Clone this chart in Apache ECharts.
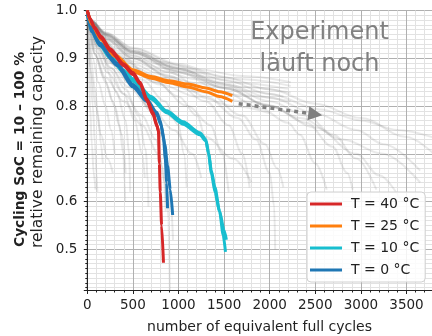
<!DOCTYPE html>
<html>
<head>
<meta charset="utf-8">
<script src="https://cdn.jsdelivr.net/npm/echarts@6/dist/echarts.min.js"></script>
<style>
  html, body { margin: 0; padding: 0; background: #fff; }
  #chart { width: 432px; height: 336px; }
</style>
</head>
<body>
<div id="chart"></div>
<script>
// Capacity fade of cells cycled between 10 % and 100 % SoC
// at four temperatures; [equivalent full cycles, relative capacity]

const t40a = [[0,1.0],[30,0.984],[80,0.965],[150,0.946],[250,0.92],[400,0.888],[500,0.87],[580,0.85],[650,0.816],[720,0.787],[760,0.762],[780,0.748],[790,0.68],[800,0.62],[815,0.55],[835,0.472]];
const t40b = [[0,1.0],[30,0.982],[80,0.962],[150,0.942],[250,0.916],[400,0.884],[500,0.866],[580,0.846],[650,0.812],[720,0.782],[765,0.757],[785,0.742]];

const t25a = [[0,1.0],[50,0.972],[150,0.942],[300,0.908],[500,0.876],[700,0.862],[900,0.853],[1100,0.846],[1300,0.838],[1450,0.83],[1590,0.822]];
const t25b = [[0,1.0],[50,0.97],[150,0.939],[300,0.904],[500,0.872],[700,0.858],[900,0.849],[1100,0.84],[1300,0.83],[1450,0.82],[1590,0.81]];

const t10a = [[0,1.0],[20,0.975],[50,0.958],[140,0.93],[250,0.905],[400,0.875],[500,0.857],[700,0.82],[870,0.79],[1050,0.767],[1235,0.744],[1300,0.73],[1330,0.7],[1360,0.66],[1400,0.62],[1450,0.58],[1500,0.54],[1525,0.52]];
const t10b = [[0,1.0],[20,0.973],[50,0.955],[140,0.926],[250,0.9],[400,0.87],[500,0.852],[700,0.815],[870,0.786],[1050,0.762],[1235,0.74],[1300,0.727],[1330,0.702],[1360,0.665],[1400,0.63],[1450,0.58],[1490,0.53],[1515,0.495]];

const t0a = [[0,1.0],[20,0.975],[50,0.96],[140,0.932],[325,0.89],[500,0.845],[650,0.815],[760,0.787],[800,0.77],[835,0.735],[855,0.69],[870,0.64],[880,0.586]];
const t0b = [[0,1.0],[20,0.972],[50,0.955],[140,0.926],[325,0.885],[500,0.84],[650,0.81],[760,0.782],[810,0.76],[850,0.72],[880,0.675],[910,0.625],[936,0.572]];

// further cells of the test matrix, drawn as a faint background
const otherCells = [
  [[0,1],[5,0.95],[15,0.88],[30,0.8],[50,0.72],[70,0.66],[90,0.625]],
  [[0,1],[10,0.95],[30,0.88],[60,0.8],[85,0.72],[100,0.66],[110,0.62]],
  [[0,1],[15,0.95],[40,0.9],[80,0.84],[120,0.78],[150,0.72],[170,0.68]],
  [[0,1],[20,0.95],[60,0.9],[120,0.85],[200,0.8],[260,0.75],[300,0.7]],
  [[0,1],[20,0.96],[80,0.91],[180,0.86],[280,0.81],[350,0.76],[395,0.7],[410,0.64],[415,0.6]],
  [[0,1],[30,0.96],[100,0.92],[200,0.88],[320,0.83],[420,0.77],[460,0.7],[470,0.62]],
  [[0,1],[25,0.955],[90,0.905],[200,0.85],[300,0.8],[380,0.74],[420,0.66]],
  [[0,1],[30,0.965],[120,0.925],[260,0.88],[420,0.835],[560,0.78],[640,0.71],[665,0.64],[670,0.59]],
  [[0,1],[30,0.962],[120,0.92],[250,0.875],[400,0.825],[520,0.77],[600,0.7],[630,0.65]],
  [[0,1],[30,0.97],[120,0.93],[280,0.89],[480,0.85],[680,0.8],[820,0.74],[870,0.66],[890,0.56],[905,0.415]],
  [[0,1],[30,0.968],[130,0.928],[300,0.885],[500,0.84],[700,0.79],[840,0.73],[900,0.64],[940,0.52]],
  [[0,1],[40,0.97],[150,0.935],[350,0.895],[600,0.855],[850,0.81],[1000,0.76],[1060,0.7],[1090,0.63]],
  [[0,1],[40,0.972],[150,0.94],[400,0.9],[700,0.86],[1000,0.82],[1200,0.78],[1320,0.72],[1380,0.65],[1410,0.6]],
  [[0,1],[40,0.97],[150,0.938],[400,0.895],[750,0.85],[1100,0.8],[1350,0.76],[1480,0.7],[1550,0.62]],
  [[0,1],[50,0.975],[200,0.94],[500,0.9],[900,0.86],[1300,0.81],[1550,0.76],[1700,0.7],[1780,0.63]],
  [[0,1],[50,0.975],[200,0.945],[500,0.905],[900,0.87],[1300,0.83],[1700,0.78],[1950,0.72],[2080,0.67],[2150,0.63]],
  [[0,1],[50,0.974],[200,0.942],[500,0.9],[900,0.862],[1300,0.82],[1650,0.775],[1850,0.73],[2000,0.66],[2050,0.59],[2060,0.5]],
  [[0,1],[50,0.976],[200,0.948],[500,0.91],[1000,0.87],[1500,0.83],[1900,0.795],[2200,0.765],[2330,0.74],[2500,0.68],[2625,0.625]],
  [[0,1],[50,0.977],[200,0.95],[500,0.912],[1000,0.875],[1500,0.838],[2000,0.8],[2400,0.765],[2690,0.715],[2850,0.66],[2910,0.625]],
  [[0,1],[50,0.978],[200,0.952],[500,0.915],[1000,0.878],[1500,0.845],[2000,0.81],[2400,0.78],[2700,0.74],[2950,0.69],[3170,0.625]],
  [[0,1],[50,0.978],[200,0.953],[500,0.92],[1000,0.885],[1500,0.855],[2000,0.825],[2550,0.793],[3000,0.77],[3400,0.75],[3780,0.735]],
  [[0,1],[50,0.977],[200,0.95],[500,0.915],[1000,0.88],[1500,0.848],[2000,0.818],[2500,0.785],[2950,0.75],[3250,0.72],[3650,0.665]],
  [[0,1],[50,0.976],[200,0.948],[500,0.912],[1000,0.872],[1500,0.838],[2000,0.8],[2330,0.775],[2800,0.73],[3240,0.7],[3650,0.64]],
  [[0,1],[50,0.978],[200,0.954],[500,0.922],[1000,0.888],[1500,0.86],[2000,0.835],[2500,0.805],[3000,0.775],[3500,0.735],[3800,0.7]],
  [[0,1],[50,0.977],[200,0.951],[500,0.916],[1000,0.878],[1500,0.842],[2000,0.8],[2500,0.755],[2950,0.7],[3200,0.655],[3450,0.6]],
  [[0,1],[50,0.98],[150,0.958],[300,0.935],[500,0.912],[800,0.893],[1200,0.877],[1700,0.863],[2230,0.85]],
  [[0,1],[50,0.978],[150,0.955],[300,0.93],[500,0.906],[800,0.887],[1200,0.87],[1700,0.856],[2230,0.842]],
  [[0,1],[50,0.976],[150,0.95],[300,0.923],[500,0.9],[800,0.88],[1200,0.863],[1700,0.848],[2200,0.836]],
  [[0,1],[50,0.975],[150,0.947],[300,0.918],[500,0.894],[800,0.874],[1200,0.856],[1700,0.84],[2230,0.828]],
  [[0,1],[50,0.974],[150,0.944],[300,0.913],[500,0.888],[800,0.867],[1200,0.848],[1700,0.832],[2150,0.82]],
  [[0,1],[50,0.973],[150,0.941],[300,0.908],[500,0.882],[800,0.86],[1200,0.84],[1700,0.822],[2230,0.81]],
  [[0,1],[50,0.972],[150,0.938],[300,0.903],[500,0.876],[800,0.852],[1200,0.83],[1700,0.81],[2100,0.797]],
  [[0,1],[50,0.971],[150,0.935],[300,0.898],[500,0.87],[800,0.845],[1200,0.82],[1600,0.8],[2000,0.785]],
  [[0,1],[30,0.965],[100,0.93],[250,0.89],[450,0.85],[700,0.81],[1000,0.77],[1300,0.735],[1600,0.69],[1800,0.64]],
  [[0,1],[30,0.963],[100,0.925],[250,0.88],[450,0.84],[700,0.795],[950,0.75],[1150,0.7],[1250,0.65]],
  [[0,1],[20,0.955],[80,0.91],[200,0.86],[400,0.81],[600,0.76],[780,0.7],[850,0.64],[870,0.6]],
  [[0,1],[25,0.96],[90,0.915],[220,0.87],[400,0.825],[600,0.78],[750,0.73],[830,0.67],[860,0.58]],
  [[0,1],[10,0.94],[40,0.87],[90,0.8],[150,0.74],[220,0.69],[280,0.66]]
];

const legendNames = ['T = 40 °C', 'T = 25 °C', 'T = 10 °C', 'T = 0 °C'];
const colors = { '40': '#d62728', '25': '#ff7f0e', '10': '#17becf', '0': '#1f77b4' };

const FONT = 'DejaVu Sans';
const chart = echarts.init(document.getElementById('chart'), null, { renderer: 'canvas' });

function bgSeries(data) {
  return {
    type: 'line', data: data, showSymbol: false, silent: true,
    smooth: 0.35, smoothMonotone: 'x', z: 1,
    lineStyle: { color: 'rgba(120,120,120,0.16)', width: 2 }
  };
}
function cellSeries(name, color, data) {
  return {
    type: 'line', name: name, data: data, showSymbol: false,
    smooth: 0.25, smoothMonotone: 'x', z: 3,
    itemStyle: { color: color },
    lineStyle: { color: color, width: 3 }
  };
}

const series = otherCells.map(bgSeries).concat([
  cellSeries(legendNames[2], colors['10'], t10a),
  cellSeries(legendNames[2], colors['10'], t10b),
  cellSeries(legendNames[3], colors['0'], t0a),
  cellSeries(legendNames[3], colors['0'], t0b),
  cellSeries(legendNames[1], colors['25'], t25a),
  cellSeries(legendNames[1], colors['25'], t25b),
  cellSeries(legendNames[0], colors['40'], t40a),
  cellSeries(legendNames[0], colors['40'], t40b),
  {
    // dotted arrow: the 25 °C test is still running
    type: 'line', data: [], silent: true, z: 4,
    markLine: {
      silent: true, animation: false,
      symbol: ['none', 'triangle'], symbolSize: 14,
      label: { show: false },
      lineStyle: { color: '#808080', width: 3.5, type: [4, 4], cap: 'butt' },
      data: [[{ coord: [1660, 0.805] }, { coord: [2500, 0.783] }]]
    }
  }
]);

chart.setOption({
  animation: false,
  textStyle: { fontFamily: FONT },
  grid: {
    left: 87.3, top: 10.5, width: 364.8, height: 280,
    outerBoundsMode: 'none', containLabel: false,
    show: true, borderColor: '#222', borderWidth: 1, backgroundColor: '#fff'
  },
  xAxis: {
    type: 'value', min: 0, max: 4000, interval: 500,
    axisLine: { show: true, lineStyle: { color: '#222', width: 1 } },
    axisTick: { show: true, length: 3.5, lineStyle: { color: '#222' } },
    minorTick: { show: true, splitNumber: 5, length: 2, lineStyle: { color: '#222' } },
    axisLabel: { fontSize: 13.5, color: '#222', margin: 8, fontFamily: FONT, formatter: v => String(v) },
    splitLine: { show: true, lineStyle: { color: '#b0b0b0', width: 1 } },
    minorSplitLine: { show: true, lineStyle: { color: '#e2e2e2', width: 1 } }
  },
  yAxis: {
    type: 'value', min: 0.414, max: 1.0, splitNumber: 5,
    axisLine: { show: true, lineStyle: { color: '#222', width: 1 } },
    axisTick: { show: true, length: 3.5, lineStyle: { color: '#222' } },
    minorTick: { show: true, splitNumber: 10, length: 2, lineStyle: { color: '#222' } },
    axisLabel: {
      fontSize: 13.5, color: '#222', margin: 10, fontFamily: FONT, showMinLabel: false,
      formatter: v => v.toFixed(1)
    },
    splitLine: { show: true, lineStyle: { color: '#b0b0b0', width: 1 } },
    minorSplitLine: { show: true, lineStyle: { color: '#e2e2e2', width: 1 } }
  },
  legend: {
    data: legendNames.map(n => ({ name: n, icon: 'rect' })),
    orient: 'vertical', left: 307, top: 192,
    itemWidth: 32, itemHeight: 3, itemGap: 6,
    padding: [4, 6, 4, 3],
    backgroundColor: 'rgba(255,255,255,0.85)',
    borderColor: '#d0d0d0', borderWidth: 1, borderRadius: 4,
    textStyle: { fontSize: 14, color: '#222', fontFamily: FONT, lineHeight: 16, padding: [0, 0, 0, 4] },
    selectedMode: false
  },
  graphic: [
    {
      type: 'text', x: 319.5, y: 33, silent: true, z: 10,
      style: { text: 'Experiment', fill: '#808080', font: '24px "DejaVu Sans"', textAlign: 'center', textVerticalAlign: 'middle' }
    },
    {
      type: 'text', x: 319.5, y: 65, silent: true, z: 10,
      style: { text: 'läuft noch', fill: '#808080', font: '24px "DejaVu Sans"', textAlign: 'center', textVerticalAlign: 'middle' }
    },
    {
      type: 'text', x: 259.5, y: 327, silent: true,
      style: { text: 'number of equivalent full cycles', fill: '#222', font: '14px "DejaVu Sans"', textAlign: 'center', textVerticalAlign: 'middle' }
    },
    {
      type: 'text', x: 20, y: 247, rotation: Math.PI / 2, silent: true,
      style: { text: 'Cycling SoC = 10 – 100 %', fill: '#222', font: 'bold 13.8px "DejaVu Sans"', textAlign: 'left', textVerticalAlign: 'middle' }
    },
    {
      type: 'text', x: 38, y: 248, rotation: Math.PI / 2, silent: true,
      style: { text: 'relative remaining capacity', fill: '#222', font: '15.5px "DejaVu Sans"', textAlign: 'left', textVerticalAlign: 'middle' }
    }
  ],
  series: series
});
</script>
</body>
</html>
